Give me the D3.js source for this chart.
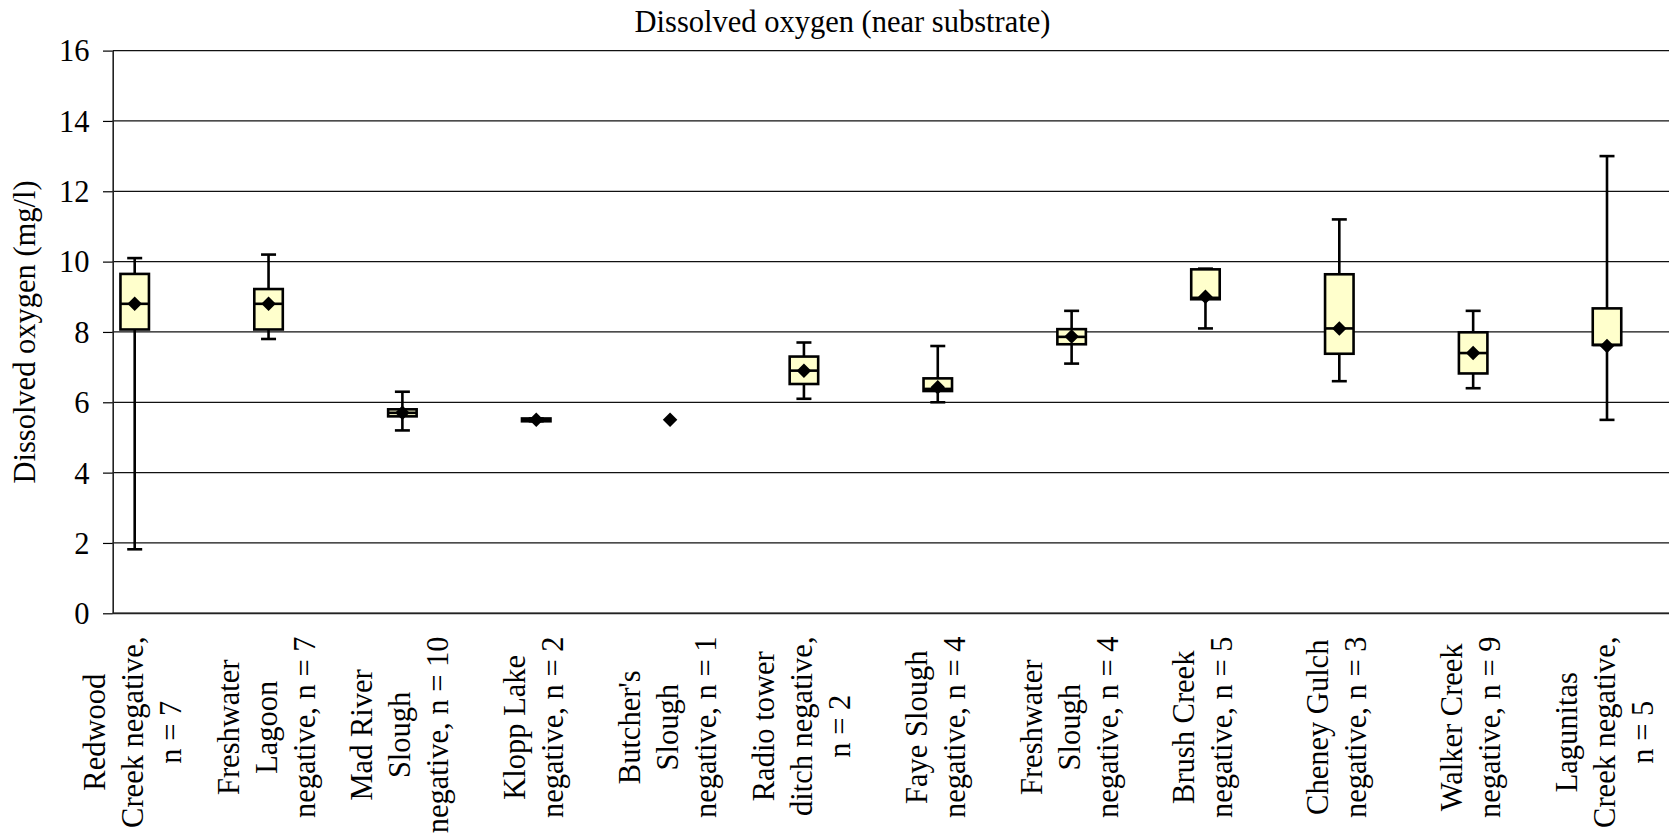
<!DOCTYPE html>
<html>
<head>
<meta charset="utf-8">
<script src="https://cdn.jsdelivr.net/npm/d3@7/dist/d3.min.js"></script>
<style>
  html, body { margin: 0; padding: 0; background: #fff; }
  svg { display: block; }
  text { font-family: "Liberation Serif", "Times New Roman", serif; fill: #000; }
</style>
</head>
<body>
<svg id="chart" width="1669" height="835"></svg>
<script>
// ---- Data ----
const categories = [
  "Redwood\nCreek negative,\nn = 7",
  "Freshwater\nLagoon\nnegative, n = 7",
  "Mad River\nSlough\nnegative, n = 10",
  "Klopp Lake\nnegative, n = 2",
  "Butcher's\nSlough\nnegative, n = 1",
  "Radio tower\nditch negative,\nn = 2",
  "Faye Slough\nnegative, n = 4",
  "Freshwater\nSlough\nnegative, n = 4",
  "Brush Creek\nnegative, n = 5",
  "Cheney Gulch\nnegative, n = 3",
  "Walker Creek\nnegative, n = 9",
  "Lagunitas\nCreek negative,\nn = 5"
];
const minValues    = [1.82, 7.8, 5.2, 5.46, null, 6.1, 6.0, 7.1, 8.1, 6.6, 6.4, 5.5];
const q1Values     = [8.07, 8.07, 5.6, 5.46, null, 6.52, 6.32, 7.65, 8.93, 7.38, 6.82, 7.63];
const medianValues = [8.8, 8.8, 5.7, 5.5, null, 6.9, 6.38, 7.86, 8.97, 8.1, 7.4, 7.63];
const q3Values     = [9.65, 9.22, 5.8, 5.54, null, 7.3, 6.68, 8.08, 9.78, 9.64, 7.99, 8.67];
const maxValues    = [10.1, 10.2, 6.3, 5.54, null, 7.7, 7.6, 8.6, 9.8, 11.2, 8.6, 13.0];
const meanValues   = [8.8, 8.8, 5.7, 5.5, 5.5, 6.9, 6.43, 7.87, 9.0, 8.1, 7.4, 7.6];
const yTickValues  = [0, 2, 4, 6, 8, 10, 12, 14, 16];
const titleText = "Dissolved oxygen (near substrate)";
const yAxisTitle = "Dissolved oxygen (mg/l)";

// ---- Layout ----
const W = 1669, H = 835;
const plotLeft = 112.7, plotRight = 1669, plotTop = 50.6, plotBottom = 613.3;
const firstCenter = 134.7, lastCenter = 1607;
const fontSize = 30.5;
const boxWidth = 28.5, capWidth = 15, diamondSize = 134;

const svg = d3.select("#chart");
svg.append("rect").attr("width", W).attr("height", H).attr("fill", "#fff");

const x = d3.scalePoint().domain(d3.range(categories.length)).range([firstCenter, lastCenter]);
const y = d3.scaleLinear().domain([0, 16]).range([plotBottom, plotTop]);

// gridlines
svg.append("g").selectAll("line").data(yTickValues).join("line")
  .attr("x1", plotLeft).attr("x2", plotRight)
  .attr("y1", d => y(d)).attr("y2", d => y(d))
  .attr("stroke", "#111").attr("stroke-width", 1.2);

// y axis
const yAxis = d3.axisLeft(y).tickValues(yTickValues).tickSize(9.7).tickSizeOuter(0).tickPadding(13.5)
  .tickFormat(d3.format("d"));
const gy = svg.append("g").attr("transform", `translate(${plotLeft},0)`).call(yAxis);
gy.select(".domain").attr("stroke", "#222").attr("stroke-width", 1.6);
gy.selectAll(".tick line").attr("stroke", "#000").attr("stroke-width", 1.2);
gy.selectAll(".tick text")
  .attr("font-family", '"Liberation Serif", "Times New Roman", serif')
  .attr("font-size", fontSize).attr("fill", "#000").attr("dy", "0.34em");

// x axis baseline
svg.append("line").attr("x1", plotLeft).attr("x2", plotRight)
  .attr("y1", y(0)).attr("y2", y(0)).attr("stroke", "#222").attr("stroke-width", 1.8);

// boxes
const idx = d3.range(categories.length);
const boxed = idx.filter(i => q1Values[i] != null);
const gBox = svg.append("g");
const sw = 2.6;
gBox.selectAll("line.whisker").data(boxed).join("line").attr("class", "whisker")
  .attr("x1", i => x(i)).attr("x2", i => x(i))
  .attr("y1", i => y(maxValues[i])).attr("y2", i => y(minValues[i]))
  .attr("stroke", "#000").attr("stroke-width", sw);
gBox.selectAll("line.capTop").data(boxed).join("line").attr("class", "capTop")
  .attr("x1", i => x(i) - capWidth / 2).attr("x2", i => x(i) + capWidth / 2)
  .attr("y1", i => y(maxValues[i])).attr("y2", i => y(maxValues[i]))
  .attr("stroke", "#000").attr("stroke-width", sw);
gBox.selectAll("line.capBot").data(boxed).join("line").attr("class", "capBot")
  .attr("x1", i => x(i) - capWidth / 2).attr("x2", i => x(i) + capWidth / 2)
  .attr("y1", i => y(minValues[i])).attr("y2", i => y(minValues[i]))
  .attr("stroke", "#000").attr("stroke-width", sw);
gBox.selectAll("rect.box").data(boxed).join("rect").attr("class", "box")
  .attr("x", i => x(i) - boxWidth / 2).attr("width", boxWidth)
  .attr("y", i => y(q3Values[i])).attr("height", i => y(q1Values[i]) - y(q3Values[i]))
  .attr("fill", "#FFFFCC").attr("stroke", "#000").attr("stroke-width", sw);
gBox.selectAll("line.median").data(boxed).join("line").attr("class", "median")
  .attr("x1", i => x(i) - boxWidth / 2).attr("x2", i => x(i) + boxWidth / 2)
  .attr("y1", i => y(medianValues[i])).attr("y2", i => y(medianValues[i]))
  .attr("stroke", "#000").attr("stroke-width", sw);

// mean diamonds
const diamond = d3.symbol().type(d3.symbolDiamond2).size(diamondSize);
svg.append("g").selectAll("path").data(idx).join("path")
  .attr("transform", i => `translate(${x(i)},${y(meanValues[i])})`)
  .attr("d", diamond).attr("fill", "#000");

// category labels
const labelTop = 636.5, lineStep = 38;
const gLab = svg.append("g");
idx.forEach(i => {
  const lines = categories[i].split("\n");
  const t = gLab.append("text")
    .attr("font-size", fontSize).attr("text-anchor", "middle");
  lines.forEach((ln, k) => {
    t.append("tspan").attr("x", 0)
      .attr("y", (k - (lines.length - 1) / 2) * lineStep + 8)
      .text(ln);
  });
  let maxLen = 0;
  t.selectAll("tspan").each(function() { maxLen = Math.max(maxLen, this.getComputedTextLength()); });
  t.attr("transform", `translate(${x(i)},${labelTop + maxLen / 2}) rotate(-90)`);
});

// titles
svg.append("text").attr("x", 842.5).attr("y", 31.5).attr("text-anchor", "middle")
  .attr("font-size", fontSize).text(titleText);
svg.append("text").attr("transform", `translate(35,${(plotTop + plotBottom) / 2}) rotate(-90)`)
  .attr("text-anchor", "middle").attr("font-size", fontSize).text(yAxisTitle);
</script>
</body>
</html>
